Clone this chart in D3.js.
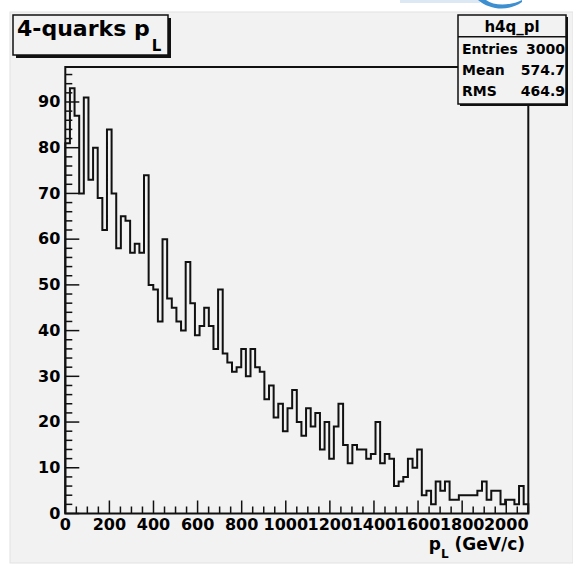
<!DOCTYPE html>
<html>
<head>
<meta charset="utf-8">
<script src="https://cdn.jsdelivr.net/npm/d3@7"></script>
<style>
  html, body { margin: 0; padding: 0; background: #ffffff; }
  svg { display: block; }
  text { font-family: "DejaVu Sans", sans-serif; font-weight: bold; fill: #000; }
</style>
</head>
<body>
<svg id="chart" width="573" height="565"></svg>
<script>
// Histogram h4q_pl: longitudinal momentum of the 4-quark system, 100 bins over 0..2100 GeV/c
const binLow = 0;
const binHigh = 2100;
const counts = [
  81, 93, 87, 70, 91, 73, 80, 69, 62, 84,
  70, 58, 65, 64, 57, 59, 57, 74, 50, 49,
  42, 60, 47, 45, 42, 40, 55, 46, 39, 41,
  45, 41, 36, 49, 35, 33, 31, 32, 36, 30,
  36, 32, 31, 25, 28, 21, 24, 18, 23, 27,
  20, 17, 23, 19, 22, 14, 20, 12, 19, 24,
  15, 11, 15, 14, 14, 12, 13, 20, 11, 13,
  12, 6, 7, 8, 12, 10, 14, 4, 5, 2,
  7, 5, 7, 3, 3, 4, 4, 4, 4, 5,
  7, 3, 5, 5, 2, 3, 3, 2, 6, 2
];
const xMajorTicks = [0, 200, 400, 600, 800, 1000, 1200, 1400, 1600, 1800, 2000];
const yMajorTicks = [0, 10, 20, 30, 40, 50, 60, 70, 80, 90];
const statsName = "h4q_pl";
const statsRows = [["Entries", "3000"], ["Mean", "574.7"], ["RMS", "464.9"]];

const svg = d3.select("#chart");
const bg = "#f2f2f2";

// page background with a small blue banner fragment at the top edge
svg.append("rect").attr("x", 0).attr("y", 0).attr("width", 573).attr("height", 565).attr("fill", "#ffffff");
svg.append("rect").attr("x", 400).attr("y", 0).attr("width", 80).attr("height", 3).attr("fill", "#dce9f5");
svg.append("path")
  .attr("d", "M478,0 C490,10 508,12 522,2 L522,0 C510,6 494,6 486,0 Z")
  .attr("fill", "#3d8fd0");

// pad
svg.append("rect").attr("x", 10).attr("y", 12).attr("width", 563).attr("height", 551)
  .attr("fill", bg).attr("stroke", "#e2e2e2").attr("stroke-width", 1);

const frame = { left: 65.3, right: 528.3, top: 67, bottom: 513.5 };
const nBins = counts.length;
const binWidth = (binHigh - binLow) / nBins;
const yMax = d3.max(counts) * 1.05;

const x = d3.scaleLinear().domain([binLow, binHigh]).range([frame.left, frame.right]);
const y = d3.scaleLinear().domain([0, yMax]).range([frame.bottom, frame.top]);

// histogram outline
const pts = [[binLow, 0]];
counts.forEach((c, i) => pts.push([binLow + i * binWidth, c]));
pts.push([binHigh, counts[nBins - 1]]);
pts.push([binHigh, 0]);
const line = d3.line().x(d => x(d[0])).y(d => y(d[1])).curve(d3.curveStepAfter);
svg.append("path").attr("d", line(pts))
  .attr("fill", "none").attr("stroke", "#111").attr("stroke-width", 2)
  .attr("stroke-linejoin", "miter");

// ticks drawn inside the frame
const yMinor = d3.range(0, yMax, 2);
const xMinor = d3.range(binLow, binHigh + 1, 50);
const ticks = svg.append("g").attr("stroke", "#111").attr("stroke-width", 1.5);
yMinor.forEach(v => {
  const major = v % 10 === 0;
  ticks.append("line").attr("x1", frame.left).attr("x2", frame.left + (major ? 14 : 7))
    .attr("y1", y(v)).attr("y2", y(v));
});
xMinor.forEach(v => {
  const major = v % 200 === 0;
  ticks.append("line").attr("x1", x(v)).attr("x2", x(v))
    .attr("y1", frame.bottom).attr("y2", frame.bottom - (major ? 13 : 7));
});

// frame
svg.append("rect").attr("x", frame.left).attr("y", frame.top)
  .attr("width", frame.right - frame.left).attr("height", frame.bottom - frame.top)
  .attr("fill", "none").attr("stroke", "#111").attr("stroke-width", 2);

// axis labels
svg.append("g").selectAll("text").data(yMajorTicks).join("text")
  .attr("x", frame.left - 5).attr("y", d => y(d)).attr("dy", "0.33em")
  .attr("text-anchor", "end").attr("font-size", 16).text(d => d);
svg.append("g").selectAll("text").data(xMajorTicks).join("text")
  .attr("x", d => x(d)).attr("y", 530)
  .attr("text-anchor", "middle").attr("font-size", 16).text(d => d);

// x-axis title: p_L (GeV/c)
const xt = svg.append("text").attr("x", 525).attr("y", 550).attr("text-anchor", "end").attr("font-size", 17);
xt.append("tspan").text("p");
xt.append("tspan").attr("font-size", 12).attr("dy", 8).text("L");
xt.append("tspan").attr("dy", -8).text("\u00a0(GeV/c)");

// title box with shadow
const tb = { x: 13, y: 15, w: 155, h: 40 };
svg.append("rect").attr("x", tb.x + 3).attr("y", tb.y + 3).attr("width", tb.w).attr("height", tb.h).attr("fill", "#111");
svg.append("rect").attr("x", tb.x).attr("y", tb.y).attr("width", tb.w).attr("height", tb.h)
  .attr("fill", bg).attr("stroke", "#111").attr("stroke-width", 1.5);
const tt = svg.append("text").attr("x", 17).attr("y", 36).attr("font-size", 22);
tt.append("tspan").text("4-quarks p");
tt.append("tspan").attr("font-size", 15).attr("dy", 15).attr("dx", 2).text("L");

// statistics box with shadow
const sb = { x: 458, y: 15, w: 108, h: 89 };
svg.append("rect").attr("x", sb.x + 2).attr("y", sb.y + 2).attr("width", sb.w).attr("height", sb.h).attr("fill", "#111");
svg.append("rect").attr("x", sb.x).attr("y", sb.y).attr("width", sb.w).attr("height", sb.h)
  .attr("fill", bg).attr("stroke", "#111").attr("stroke-width", 1.5);
svg.append("line").attr("x1", sb.x).attr("x2", sb.x + sb.w).attr("y1", 36.7).attr("y2", 36.7)
  .attr("stroke", "#111").attr("stroke-width", 1.5);
svg.append("text").attr("x", sb.x + sb.w / 2).attr("y", 31.5).attr("text-anchor", "middle")
  .attr("font-size", 15).text(statsName);
const rowY = [53.5, 75, 96];
statsRows.forEach((r, i) => {
  svg.append("text").attr("x", sb.x + 4).attr("y", rowY[i]).attr("font-size", 14).text(r[0]);
  svg.append("text").attr("x", sb.x + sb.w - 1).attr("y", rowY[i]).attr("text-anchor", "end")
    .attr("font-size", 14).text(r[1]);
});
</script>
</body>
</html>
